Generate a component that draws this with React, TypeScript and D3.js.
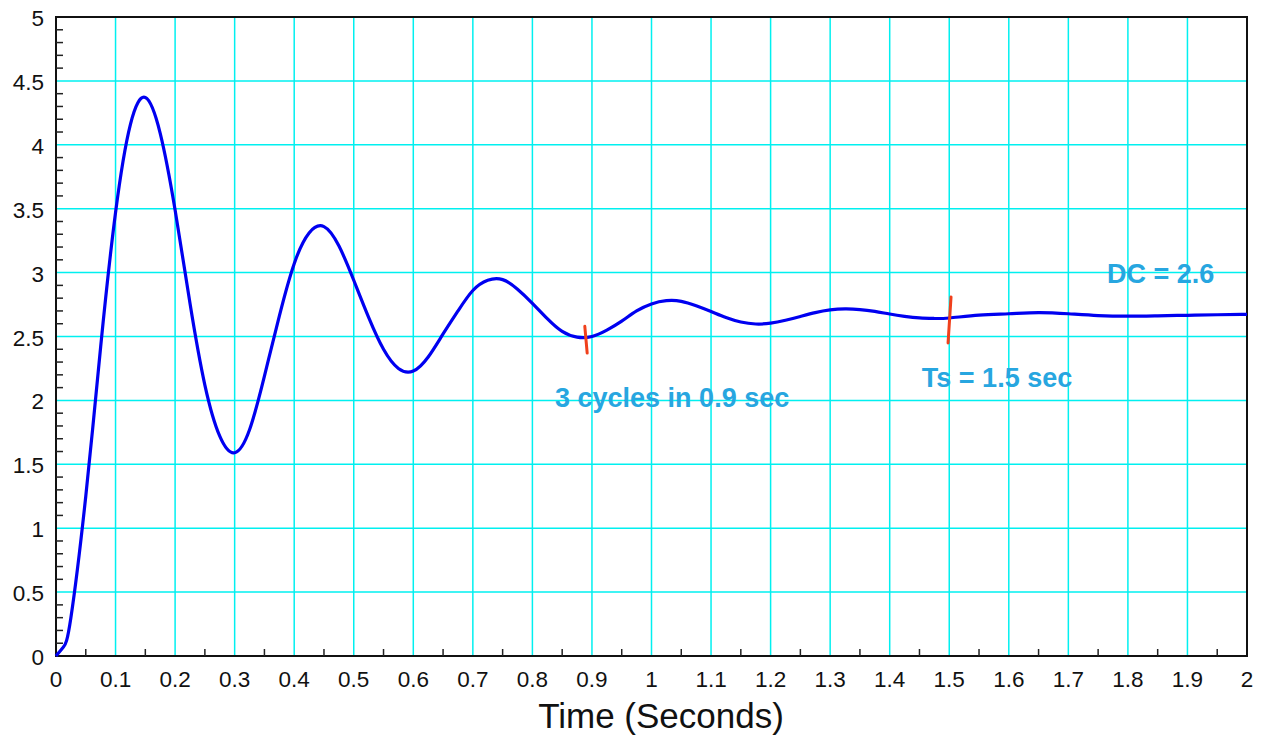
import React, { useEffect, useRef } from 'react';
import * as d3 from 'd3';

// step response
const times = [
  0, 0.0125, 0.025, 0.05, 0.075, 0.1, 0.125, 0.15, 0.175, 0.2, 0.225, 0.25, 0.275, 0.3,
  0.325, 0.35, 0.375, 0.4, 0.425, 0.45, 0.475, 0.5, 0.525, 0.55, 0.575, 0.6,
  0.625, 0.65, 0.675, 0.7, 0.725, 0.75, 0.775, 0.8, 0.825, 0.85, 0.875, 0.9,
  0.925, 0.95, 0.975, 1.0, 1.025, 1.05, 1.075, 1.1, 1.125, 1.15, 1.175, 1.2,
  1.225, 1.25, 1.275, 1.3, 1.325, 1.35, 1.375, 1.4, 1.425, 1.45, 1.475, 1.5,
  1.55, 1.6, 1.65, 1.7, 1.75, 1.8, 1.85, 1.9, 1.95, 2.0,
];
const response = [
  0, 0.07, 0.3, 1.25, 2.42, 3.47, 4.16, 4.37, 4.09, 3.49, 2.76, 2.12, 1.72, 1.59,
  1.77, 2.19, 2.66, 3.07, 3.31, 3.36, 3.21, 2.94, 2.65, 2.4, 2.25, 2.23,
  2.34, 2.52, 2.7, 2.86, 2.94, 2.945, 2.87, 2.76, 2.64, 2.54, 2.495, 2.5,
  2.55, 2.62, 2.7, 2.755, 2.78, 2.775, 2.74, 2.695, 2.648, 2.613, 2.598, 2.604,
  2.627, 2.657, 2.687, 2.708, 2.716, 2.711, 2.696, 2.676, 2.658, 2.645, 2.641, 2.645,
  2.667, 2.678, 2.687, 2.678, 2.664, 2.659, 2.662, 2.666, 2.67, 2.673,
];

// red markers: [t1, y1, t2, y2]
const markers = [
  [0.888, 2.58, 0.892, 2.37],
  [1.503, 2.81, 1.498, 2.45],
];

const notes = [
  { text: 'DC = 2.6', t: 1.765, v: 2.919 },
  { text: 'Ts = 1.5 sec', t: 1.454, v: 2.105 },
  { text: '3 cycles in 0.9 sec', t: 0.838, v: 1.948 },
];

const xTicks = d3.range(0, 21).map(i => i / 10);
const yTicks = d3.range(0, 11).map(i => i / 2);

const W = 1266, H = 737;
const margin = { top: 17, right: 19, bottom: 81, left: 56 };

export default function App() {
  const ref = useRef<SVGSVGElement>(null);

  useEffect(() => {
    const svg = d3.select(ref.current);
    svg.selectAll('*').remove();

    const x = d3.scaleLinear().domain([0, 2]).range([margin.left, W - margin.right]);
    const y = d3.scaleLinear().domain([0, 5]).range([H - margin.bottom, margin.top]);
    const font = 'Liberation Sans, Arial, Helvetica, sans-serif';

    // grid
    svg.append('g').selectAll('line').data(xTicks).join('line')
      .attr('x1', d => x(d)).attr('x2', d => x(d))
      .attr('y1', y(0)).attr('y2', y(5))
      .attr('stroke', '#00f0f0').attr('stroke-width', 1.5);
    svg.append('g').selectAll('line').data(yTicks).join('line')
      .attr('x1', x(0)).attr('x2', x(2))
      .attr('y1', d => y(d)).attr('y2', d => y(d))
      .attr('stroke', '#00f0f0').attr('stroke-width', 1.5);

    // frame
    svg.append('rect')
      .attr('x', x(0)).attr('y', y(5))
      .attr('width', x(2) - x(0)).attr('height', y(0) - y(5))
      .attr('fill', 'none').attr('stroke', '#111').attr('stroke-width', 2);

    // minor ticks
    svg.append('g').selectAll('line').data(d3.range(0, 51).filter(i => i % 5 !== 0).map(i => i / 10)).join('line')
      .attr('x1', x(0)).attr('x2', x(0) + 7)
      .attr('y1', d => y(d)).attr('y2', d => y(d))
      .attr('stroke', '#222').attr('stroke-width', 1.5);
    svg.append('g').selectAll('line').data(d3.range(0, 20).map(i => i / 10 + 0.05)).join('line')
      .attr('x1', d => x(d)).attr('x2', d => x(d))
      .attr('y1', y(0)).attr('y2', y(0) - 7)
      .attr('stroke', '#222').attr('stroke-width', 1.5);

    // tick labels
    svg.append('g').selectAll('text').data(xTicks).join('text')
      .attr('x', d => x(d)).attr('y', y(0) + 31)
      .attr('text-anchor', 'middle')
      .attr('font-family', font).attr('font-size', 22.5).attr('fill', '#111')
      .text(d => d3.format('~g')(d));
    svg.append('g').selectAll('text').data(yTicks).join('text')
      .attr('x', x(0) - 12).attr('y', d => y(d) + 9)
      .attr('text-anchor', 'end')
      .attr('font-family', font).attr('font-size', 22.5).attr('fill', '#111')
      .text(d => d3.format('~g')(d));

    svg.append('text')
      .attr('x', 661).attr('y', 728)
      .attr('text-anchor', 'middle')
      .attr('font-family', font).attr('font-size', 35).attr('fill', '#111')
      .text('Time (Seconds)');

    // curve
    const line = d3.line<number>()
      .x((_, i) => x(times[i]))
      .y(d => y(d))
      .curve(d3.curveNatural);
    svg.append('path')
      .datum(response)
      .attr('d', line)
      .attr('fill', 'none').attr('stroke', '#0000f0').attr('stroke-width', 3.2)
      .attr('stroke-linejoin', 'round');

    // markers
    svg.append('g').selectAll('line').data(markers).join('line')
      .attr('x1', d => x(d[0])).attr('y1', d => y(d[1]))
      .attr('x2', d => x(d[2])).attr('y2', d => y(d[3]))
      .attr('stroke', '#f0401c').attr('stroke-width', 3).attr('stroke-linecap', 'round');

    // notes
    svg.append('g').selectAll('text').data(notes).join('text')
      .attr('x', d => x(d.t)).attr('y', d => y(d.v))
      .attr('font-family', font).attr('font-size', 27).attr('font-weight', 'bold')
      .attr('fill', '#27a6e0')
      .text(d => d.text);
  }, []);

  return (
    <svg ref={ref} width={W} height={H}
      style={{ position: 'absolute', left: 0, top: 0, background: '#fff' }} />
  );
}
